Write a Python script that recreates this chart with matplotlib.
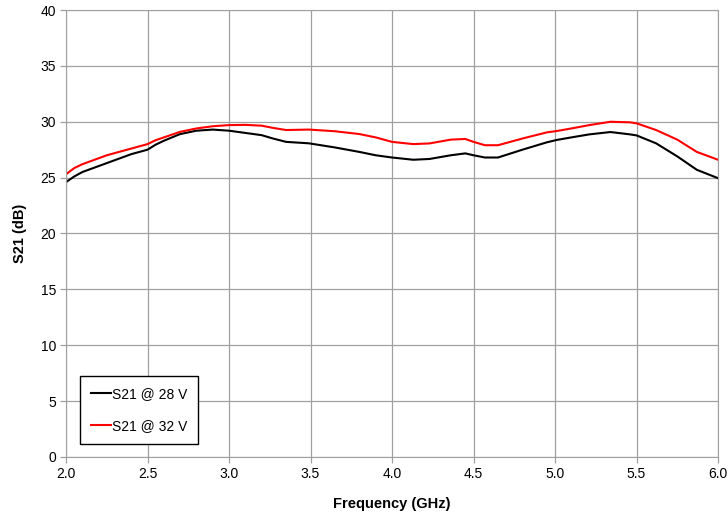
import matplotlib
matplotlib.use("Agg")
from matplotlib import pyplot as plt

plt.rcParams['font.family'] = ['Liberation Sans', 'DejaVu Sans']

# frequency points (GHz) and gain readings (dB)
freq = [2.0, 2.05, 2.1, 2.25, 2.4, 2.5, 2.55, 2.6, 2.7, 2.8, 2.9, 3.0, 3.1, 3.2, 3.27, 3.35,
        3.49, 3.65, 3.8, 3.9, 4.0, 4.13, 4.23, 4.36, 4.45, 4.5, 4.57, 4.65,
        4.8, 4.95, 5.01, 5.1, 5.21, 5.34, 5.46, 5.5, 5.62, 5.75, 5.87, 6.0]

s21_28v = [24.6, 25.1, 25.5, 26.3, 27.1, 27.5, 27.95, 28.3, 28.9, 29.2, 29.3, 29.2, 29.0,
           28.8, 28.5, 28.2, 28.07, 27.7, 27.3, 27.0, 26.8, 26.6, 26.67, 27.0,
           27.17, 27.0, 26.8, 26.8, 27.5, 28.16, 28.37, 28.6, 28.87, 29.08,
           28.87, 28.78, 28.07, 26.9, 25.7, 24.95]

s21_32v = [25.3, 25.85, 26.2, 27.0, 27.6, 28.0, 28.35, 28.6, 29.1, 29.4, 29.6, 29.7, 29.72,
           29.65, 29.45, 29.26, 29.3, 29.15, 28.9, 28.6, 28.2, 28.0, 28.06, 28.4,
           28.46, 28.2, 27.9, 27.9, 28.5, 29.05, 29.17, 29.4, 29.7, 30.0,
           29.95, 29.86, 29.26, 28.4, 27.3, 26.6]

fig = plt.figure(figsize=(7.28, 5.19), dpi=100)
ax = fig.add_axes([0.0907, 0.1195, 0.8956, 0.8612])

ax.plot(freq, s21_28v, color='black', lw=1.5, label='S21 @ 28 V')
ax.plot(freq, s21_32v, color='red', lw=1.5, label='S21 @ 32 V')

ax.set_xlim(2.0, 6.0)
ax.set_ylim(0, 40)
ax.set_xticks([2.0, 2.5, 3.0, 3.5, 4.0, 4.5, 5.0, 5.5, 6.0])
ax.set_xticklabels(['2.0', '2.5', '3.0', '3.5', '4.0', '4.5', '5.0', '5.5', '6.0'])
ax.set_yticks(range(0, 41, 5))
ax.grid(True, color='#a0a0a0', lw=0.9)
ax.set_axisbelow(True)
for s in ax.spines.values():
    s.set_color('#a0a0a0')
ax.tick_params(labelsize=10, colors='#a0a0a0', labelcolor='black', length=4, width=0.9, pad=3)

ax.set_xlabel('Frequency (GHz)', fontsize=10.5, fontweight='bold', labelpad=12)
ax.set_ylabel('S21 (dB)', fontsize=10.5, fontweight='bold', labelpad=10)

leg = ax.legend(loc='lower left', bbox_to_anchor=(0.0215, 0.029), borderaxespad=0,
                fontsize=10, handlelength=1.4, handletextpad=0.1, labelspacing=1.3,
                borderpad=0.8, fancybox=False, framealpha=1)
leg.get_frame().set_edgecolor('black')
leg.get_frame().set_linewidth(1.0)

plt.savefig('out.png', dpi=100)
